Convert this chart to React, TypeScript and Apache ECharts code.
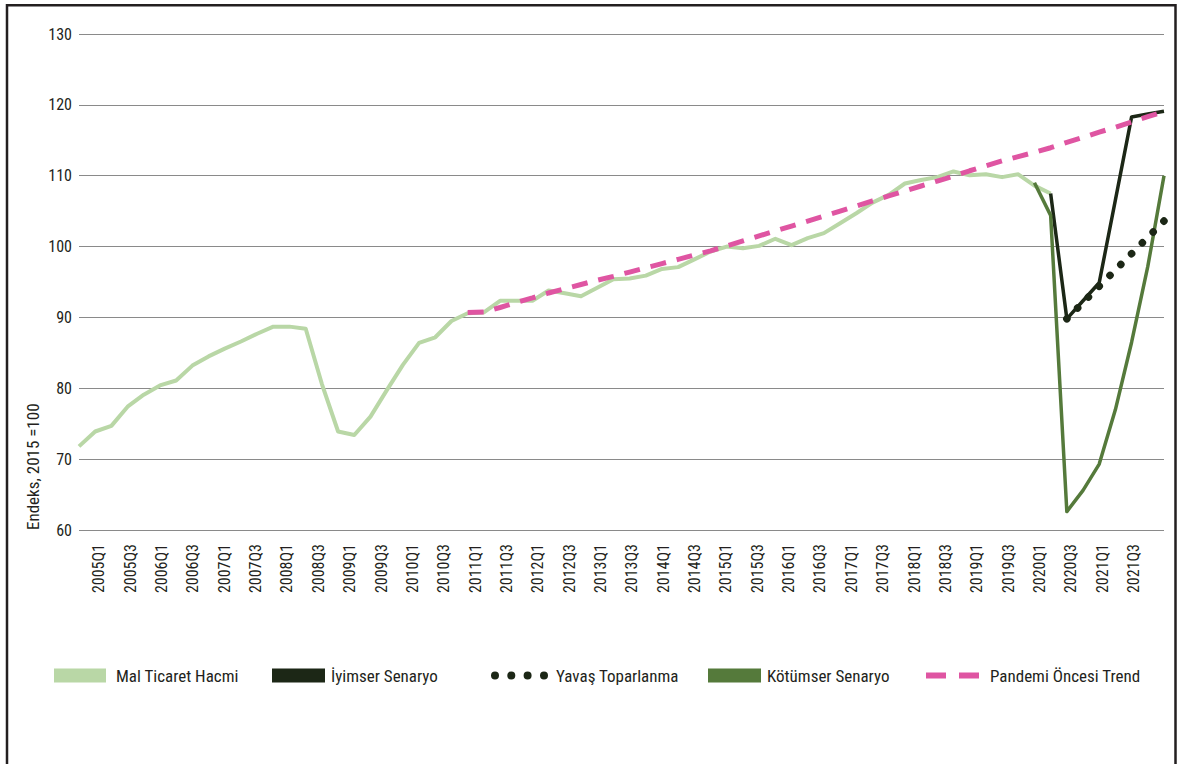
import React, { useEffect, useRef } from "react";
import * as echarts from "echarts";

const quarters: string[] = [
  "2005Q1", "2005Q2", "2005Q3", "2005Q4",
  "2006Q1", "2006Q2", "2006Q3", "2006Q4",
  "2007Q1", "2007Q2", "2007Q3", "2007Q4",
  "2008Q1", "2008Q2", "2008Q3", "2008Q4",
  "2009Q1", "2009Q2", "2009Q3", "2009Q4",
  "2010Q1", "2010Q2", "2010Q3", "2010Q4",
  "2011Q1", "2011Q2", "2011Q3", "2011Q4",
  "2012Q1", "2012Q2", "2012Q3", "2012Q4",
  "2013Q1", "2013Q2", "2013Q3", "2013Q4",
  "2014Q1", "2014Q2", "2014Q3", "2014Q4",
  "2015Q1", "2015Q2", "2015Q3", "2015Q4",
  "2016Q1", "2016Q2", "2016Q3", "2016Q4",
  "2017Q1", "2017Q2", "2017Q3", "2017Q4",
  "2018Q1", "2018Q2", "2018Q3", "2018Q4",
  "2019Q1", "2019Q2", "2019Q3", "2019Q4",
  "2020Q1", "2020Q2", "2020Q3", "2020Q4",
  "2021Q1", "2021Q2", "2021Q3", "2021Q4",
];

// Mal Ticaret Hacmi (2005Q1 .. 2020Q1)
const malTicaretHacmi: (number | null)[] = [
  71.8, 73.9, 74.7, 77.4, 79.1, 80.4, 81.1, 83.2,
  84.5, 85.6, 86.6, 87.7, 88.7, 88.7, 88.4, 80.6,
  73.9, 73.4, 76.0, 79.7, 83.3, 86.4, 87.2, 89.5,
  90.6, 90.7, 92.35, 92.35, 92.35, 93.8, 93.4, 93.0,
  94.2, 95.4, 95.5, 95.9, 96.85, 97.1, 98.2, 99.3,
  100.0, 99.75, 100.1, 101.1, 100.2, 101.2, 101.9, 103.3,
  104.7, 106.2, 107.3, 108.9, 109.4, 109.8, 110.6, 110.05,
  110.2, 109.8, 110.2, 108.6, 107.5,
  null, null, null, null, null, null, null,
];

// İyimser Senaryo (2020Q1 .. 2021Q4)
const iyimserSenaryo: (number | null)[] = [
  null, null, null, null, null, null, null, null, null, null,
  null, null, null, null, null, null, null, null, null, null,
  null, null, null, null, null, null, null, null, null, null,
  null, null, null, null, null, null, null, null, null, null,
  null, null, null, null, null, null, null, null, null, null,
  null, null, null, null, null, null, null, null, null, null,
  107.5, 89.8, 92.35, 94.9, 106.6, 118.3, 118.7, 119.1,
];

// Yavaş Toparlanma (2020Q2 .. 2021Q4)
const yavasToparlanma: (number | null)[] = [
  null, null, null, null, null, null, null, null, null, null,
  null, null, null, null, null, null, null, null, null, null,
  null, null, null, null, null, null, null, null, null, null,
  null, null, null, null, null, null, null, null, null, null,
  null, null, null, null, null, null, null, null, null, null,
  null, null, null, null, null, null, null, null, null, null,
  null, 89.8, 92.1, 94.4, 96.7, 99.0, 101.3, 103.6,
];

// Kötümser Senaryo (2019Q4 .. 2021Q4)
const kotumserSenaryo: (number | null)[] = [
  null, null, null, null, null, null, null, null, null, null,
  null, null, null, null, null, null, null, null, null, null,
  null, null, null, null, null, null, null, null, null, null,
  null, null, null, null, null, null, null, null, null, null,
  null, null, null, null, null, null, null, null, null, null,
  null, null, null, null, null, null, null, null, null, 109.0,
  104.4, 62.6, 65.6, 69.3, 77.0, 86.5, 97.2, 110.0,
];

// Pandemi Öncesi Trend (2011Q1 .. 2021Q4)
const pandemiOncesiTrend: (number | null)[] = [
  null, null, null, null, null, null, null, null,
  null, null, null, null, null, null, null, null,
  null, null, null, null, null, null, null, null,
  90.7, 90.75, 91.4, 92.1, 92.75, 93.45, 94.05, 94.65,
  95.25, 95.8, 96.4, 97.0, 97.6, 98.2, 98.8, 99.4,
  100.1, 100.8, 101.5, 102.2, 102.9, 103.6, 104.3, 105.0,
  105.7, 106.45, 107.15, 107.85, 108.55, 109.25, 109.95, 110.7,
  111.4, 112.1, 112.7, 113.3, 113.95, 114.7, 115.4, 116.15,
  116.85, 117.6, 118.35, 119.05,
];

const yTicks = { min: 60, max: 130, interval: 10 };
const yAxisTitle = "Endeks, 2015 =100";

const FONT = "'Roboto Condensed', 'Liberation Sans Narrow', 'DejaVu Sans Condensed', sans-serif";
const TEXT = "#231f20";
const C_LIGHT = "#b9d7a6";
const C_DARK = "#1c2716";
const C_GREEN = "#557a3b";
const C_PINK = "#df55a2";
const C_GRID = "#8a8a8a";

const legendCommon = {
  orient: "horizontal",
  padding: 0,
  top: 667,
  selectedMode: false,
  itemStyle: { borderWidth: 0 },
};

const textStyleFor = (padLeft: number) => ({
  color: TEXT,
  fontSize: 17,
  fontFamily: FONT,
  padding: [0, 0, 0, padLeft],
});

export default function App() {
  const ref = useRef<HTMLDivElement>(null);

  useEffect(() => {
    if (!ref.current) return;
    const chart = echarts.init(ref.current, null, { renderer: "svg" });

    const option: any = {
      animation: false,
      backgroundColor: "#ffffff",
      grid: [
        { left: 79, right: 15, top: 34, bottom: 234 },
        { left: 91, right: 22, top: 34, bottom: 234 },
      ],
      xAxis: [
        {
          gridIndex: 0,
          type: "category",
          data: quarters,
          boundaryGap: false,
          axisLine: { show: false },
          axisTick: { show: false },
          axisLabel: { show: false },
          splitLine: { show: false },
        },
        {
          gridIndex: 1,
          type: "category",
          data: quarters,
          boundaryGap: true,
          axisLine: { show: false },
          axisTick: { show: false },
          splitLine: { show: false },
          axisLabel: {
            interval: 1,
            rotate: 90,
            margin: 14,
            fontSize: 16,
            fontFamily: FONT,
            color: TEXT,
          },
        },
      ],
      yAxis: [
        {
          gridIndex: 0,
          type: "value",
          min: yTicks.min,
          max: yTicks.max,
          interval: yTicks.interval,
          axisLine: { show: false },
          axisTick: { show: false },
          axisLabel: { margin: 7, fontSize: 16, fontFamily: FONT, color: TEXT },
          splitLine: { show: true, lineStyle: { color: C_GRID, width: 1 } },
        },
        {
          gridIndex: 1,
          type: "value",
          min: yTicks.min,
          max: yTicks.max,
          show: false,
          splitLine: { show: false },
        },
      ],
      legend: [
        {
          ...legendCommon,
          left: 54,
          itemWidth: 52,
          itemHeight: 14,
          textStyle: textStyleFor(5),
          data: [{ name: "Mal Ticaret Hacmi", icon: "rect", itemStyle: { color: C_LIGHT, borderWidth: 0 } }],
        },
        {
          ...legendCommon,
          left: 272,
          itemWidth: 53,
          itemHeight: 14,
          textStyle: textStyleFor(1),
          data: [{ name: "İyimser Senaryo", icon: "rect", itemStyle: { color: C_DARK, borderWidth: 0 } }],
        },
        {
          ...legendCommon,
          left: 491,
          itemWidth: 57,
          itemHeight: 8,
          textStyle: textStyleFor(3),
          data: [
            {
              name: "Yavaş Toparlanma",
              icon:
                "path://M0,4a4,4 0 1,0 8,0a4,4 0 1,0 -8,0ZM16.3,4a4,4 0 1,0 8,0a4,4 0 1,0 -8,0ZM32.6,4a4,4 0 1,0 8,0a4,4 0 1,0 -8,0ZM49,4a4,4 0 1,0 8,0a4,4 0 1,0 -8,0Z",
              itemStyle: { color: C_DARK, borderWidth: 0 },
            },
          ],
        },
        {
          ...legendCommon,
          left: 708,
          itemWidth: 53,
          itemHeight: 14,
          textStyle: textStyleFor(1),
          data: [{ name: "Kötümser Senaryo", icon: "rect", itemStyle: { color: C_GREEN, borderWidth: 0 } }],
        },
        {
          ...legendCommon,
          left: 926,
          itemWidth: 53,
          itemHeight: 6,
          textStyle: textStyleFor(6),
          data: [
            {
              name: "Pandemi Öncesi Trend",
              icon: "path://M0,0H20V6H0ZM33,0H53V6H33Z",
              itemStyle: { color: C_PINK, borderWidth: 0 },
            },
          ],
        },
      ],
      graphic: [
        {
          type: "rect",
          silent: true,
          shape: { x: 7, y: 5.3, width: 1168.5, height: 820 },
          style: { fill: "none", stroke: TEXT, lineWidth: 2.5 },
          z: 100,
        },
        {
          type: "text",
          x: 33,
          y: 530,
          rotation: Math.PI / 2,
          silent: true,
          style: {
            text: yAxisTitle,
            fill: TEXT,
            fontSize: 17,
            fontFamily: FONT,
            align: "left",
            verticalAlign: "middle",
          },
        },
      ],
      series: [
        {
          name: "Mal Ticaret Hacmi",
          type: "line",
          xAxisIndex: 0,
          yAxisIndex: 0,
          data: malTicaretHacmi,
          symbol: "none",
          silent: true,
          lineStyle: { color: C_LIGHT, width: 4, join: "round" },
          itemStyle: { color: C_LIGHT },
          z: 2,
        },
        {
          name: "İyimser Senaryo",
          type: "line",
          xAxisIndex: 0,
          yAxisIndex: 0,
          data: iyimserSenaryo,
          symbol: "none",
          silent: true,
          lineStyle: { color: C_DARK, width: 3.5, join: "round" },
          itemStyle: { color: C_DARK },
          z: 3,
        },
        {
          name: "Kötümser Senaryo",
          type: "line",
          xAxisIndex: 0,
          yAxisIndex: 0,
          data: kotumserSenaryo,
          symbol: "none",
          silent: true,
          lineStyle: { color: C_GREEN, width: 3.5, join: "round" },
          itemStyle: { color: C_GREEN },
          z: 4,
        },
        {
          name: "Yavaş Toparlanma",
          type: "line",
          xAxisIndex: 0,
          yAxisIndex: 0,
          data: yavasToparlanma,
          symbol: "none",
          silent: true,
          lineStyle: { color: C_DARK, width: 7.5, type: [0.1, 15.2], cap: "round" },
          itemStyle: { color: C_DARK },
          z: 5,
        },
        {
          name: "Pandemi Öncesi Trend",
          type: "line",
          xAxisIndex: 0,
          yAxisIndex: 0,
          data: pandemiOncesiTrend,
          symbol: "none",
          silent: true,
          lineStyle: { color: C_PINK, width: 5, type: [16, 11] },
          itemStyle: { color: C_PINK },
          z: 6,
        },
      ],
    };

    chart.setOption(option);
    return () => chart.dispose();
  }, []);

  return (
    <div
      ref={ref}
      style={{ position: "absolute", left: 0, top: 0, width: 1179, height: 764, background: "#ffffff" }}
    />
  );
}
